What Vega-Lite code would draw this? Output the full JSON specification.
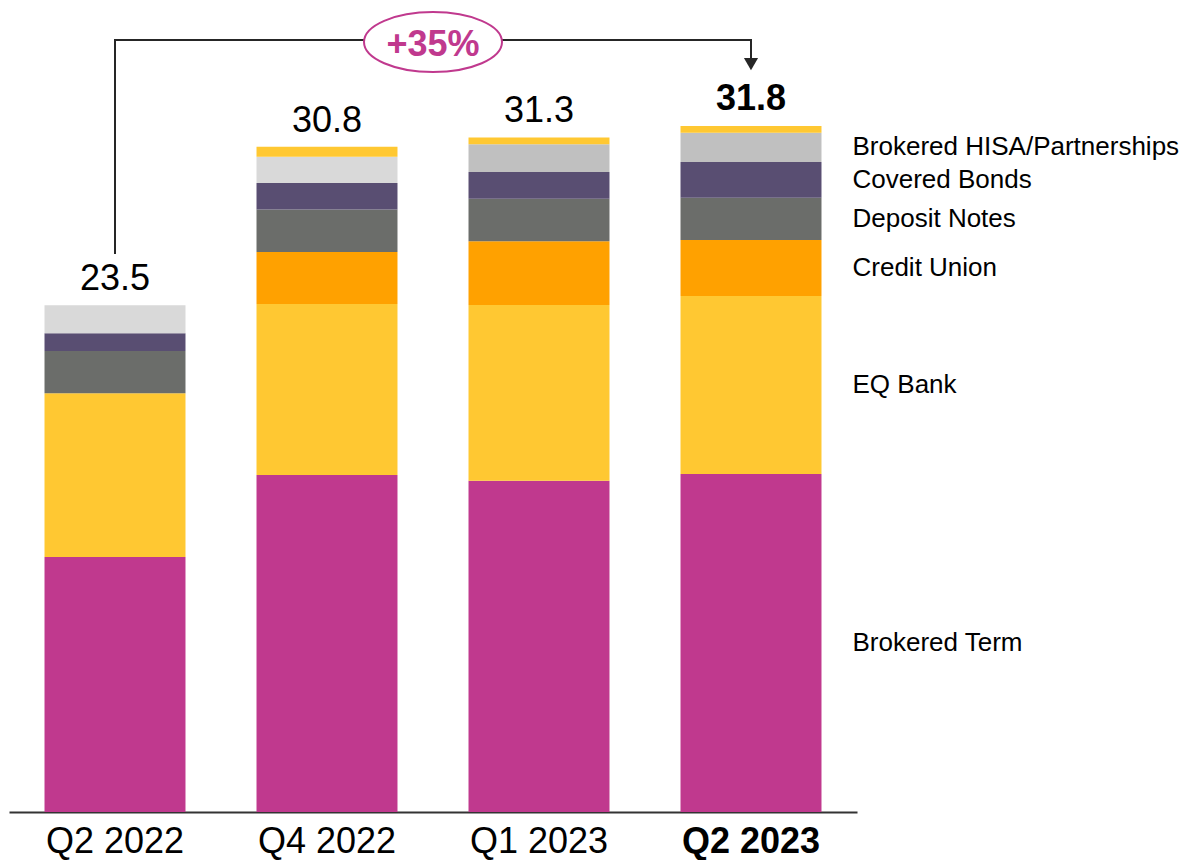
{
  "$schema": "https://vega.github.io/schema/vega-lite/v6.json",
  "width": 848,
  "height": 812,
  "autosize": {"type": "none"},
  "padding": {"left": 9, "top": 0, "right": 329, "bottom": 48},
  "config": {"view": {"stroke": null}, "font": "Liberation Sans", "text": {"font": "Liberation Sans"}},
  "datasets": {
    "funding": [
      {"q": "Q2 2022", "series": "Brokered Term", "value": 11.82},
      {"q": "Q2 2022", "series": "EQ Bank", "value": 7.60},
      {"q": "Q2 2022", "series": "Deposit Notes", "value": 1.95},
      {"q": "Q2 2022", "series": "Covered Bonds", "value": 0.83},
      {"q": "Q2 2022", "series": "Brokered HISA", "value": 1.30},
      {"q": "Q4 2022", "series": "Brokered Term", "value": 15.62},
      {"q": "Q4 2022", "series": "EQ Bank", "value": 7.94},
      {"q": "Q4 2022", "series": "Credit Union", "value": 2.40},
      {"q": "Q4 2022", "series": "Deposit Notes", "value": 1.98},
      {"q": "Q4 2022", "series": "Covered Bonds", "value": 1.22},
      {"q": "Q4 2022", "series": "Brokered HISA", "value": 1.22},
      {"q": "Q4 2022", "series": "Other", "value": 0.46},
      {"q": "Q1 2023", "series": "Brokered Term", "value": 15.36},
      {"q": "Q1 2023", "series": "EQ Bank", "value": 8.15},
      {"q": "Q1 2023", "series": "Credit Union", "value": 2.95},
      {"q": "Q1 2023", "series": "Deposit Notes", "value": 1.98},
      {"q": "Q1 2023", "series": "Covered Bonds", "value": 1.24},
      {"q": "Q1 2023", "series": "Brokered HISA/Partnerships", "value": 1.28},
      {"q": "Q1 2023", "series": "Other", "value": 0.32},
      {"q": "Q2 2023", "series": "Brokered Term", "value": 15.67},
      {"q": "Q2 2023", "series": "EQ Bank", "value": 8.25},
      {"q": "Q2 2023", "series": "Credit Union", "value": 2.60},
      {"q": "Q2 2023", "series": "Deposit Notes", "value": 1.96},
      {"q": "Q2 2023", "series": "Covered Bonds", "value": 1.66},
      {"q": "Q2 2023", "series": "Brokered HISA/Partnerships", "value": 1.36},
      {"q": "Q2 2023", "series": "Other", "value": 0.31}
    ],
    "bracket": [
      {"q": "Q2 2022", "y": 25.87, "o": 1},
      {"q": "Q2 2022", "y": 35.79, "o": 2},
      {"q": "Q2 2023", "y": 35.79, "o": 3},
      {"q": "Q2 2023", "y": 34.8, "o": 4}
    ],
    "arrow": [{"q": "Q2 2023", "y": 34.68}],
    "badge": [{"q": "Q4 2022", "y": 35.70, "ty": 35.06, "label": "+35%"}]
  },
  "layer": [
    {
      "data": {"name": "funding"},
      "transform": [
        {"calculate": "indexof(['Brokered Term','EQ Bank','Credit Union','Deposit Notes','Covered Bonds','Brokered HISA','Brokered HISA/Partnerships','Other'], datum.series)", "as": "ord"}
      ],
      "mark": {"type": "bar"},
      "encoding": {
        "x": {
          "field": "q", "type": "nominal",
          "scale": {"domain": ["Q2 2022", "Q4 2022", "Q1 2023", "Q2 2023"], "paddingInner": 0.335, "paddingOuter": 0.1675},
          "axis": {
            "title": null, "labelAngle": 0, "labelFontSize": 36, "labelColor": "#000000",
            "labelFont": "Liberation Sans",
            "labelFontWeight": {"condition": {"test": "datum.value === 'Q2 2023'", "value": "bold"}, "value": "normal"},
            "ticks": false, "labelPadding": 12, "domainColor": "#333333", "domainWidth": 2,
            "grid": false, "labelOverlap": false
          }
        },
        "y": {
          "field": "value", "type": "quantitative", "stack": "zero",
          "scale": {"domain": [0, 37.65], "nice": false, "zero": true},
          "axis": null
        },
        "color": {
          "field": "series", "type": "nominal", "legend": null,
          "scale": {
            "domain": ["Brokered Term", "EQ Bank", "Credit Union", "Deposit Notes", "Covered Bonds", "Brokered HISA", "Brokered HISA/Partnerships", "Other"],
            "range": ["#c0398e", "#ffc832", "#ffa100", "#6b6d6a", "#594e72", "#d9d9d9", "#c0c0c0", "#ffc832"]
          }
        },
        "order": {"field": "ord", "type": "quantitative"}
      }
    },
    {
      "data": {"name": "funding"},
      "transform": [
        {"aggregate": [{"op": "sum", "field": "value", "as": "total"}], "groupby": ["q"]},
        {"filter": "datum.q !== 'Q2 2023'"}
      ],
      "mark": {"type": "text", "fontSize": 36, "dy": -15, "baseline": "alphabetic", "align": "center", "color": "#000000"},
      "encoding": {
        "x": {"field": "q", "type": "nominal", "scale": {"domain": ["Q2 2022", "Q4 2022", "Q1 2023", "Q2 2023"]}},
        "y": {"field": "total", "type": "quantitative"},
        "text": {"field": "total", "type": "quantitative", "format": ".1f"}
      }
    },
    {
      "data": {"name": "funding"},
      "transform": [
        {"aggregate": [{"op": "sum", "field": "value", "as": "total"}], "groupby": ["q"]},
        {"filter": "datum.q === 'Q2 2023'"}
      ],
      "mark": {"type": "text", "fontSize": 36, "fontWeight": "bold", "dy": -16, "baseline": "alphabetic", "align": "center", "color": "#000000"},
      "encoding": {
        "x": {"field": "q", "type": "nominal", "scale": {"domain": ["Q2 2022", "Q4 2022", "Q1 2023", "Q2 2023"]}},
        "y": {"field": "total", "type": "quantitative"},
        "text": {"field": "total", "type": "quantitative", "format": ".1f"}
      }
    },
    {
      "data": {"name": "funding"},
      "transform": [
        {"calculate": "indexof(['Brokered Term','EQ Bank','Credit Union','Deposit Notes','Covered Bonds','Brokered HISA','Brokered HISA/Partnerships','Other'], datum.series)", "as": "ord"},
        {"stack": "value", "groupby": ["q"], "sort": [{"field": "ord", "order": "ascending"}], "as": ["v0", "v1"]},
        {"filter": "datum.q === 'Q2 2023' && datum.series !== 'Other'"},
        {"calculate": "(datum.v0 + datum.v1) / 2", "as": "mid"}
      ],
      "mark": {"type": "text", "fontSize": 26, "align": "left", "baseline": "middle", "dx": 101.5, "color": "#000000"},
      "encoding": {
        "x": {"field": "q", "type": "nominal", "scale": {"domain": ["Q2 2022", "Q4 2022", "Q1 2023", "Q2 2023"]}},
        "y": {"field": "mid", "type": "quantitative"},
        "text": {"field": "series", "type": "nominal"}
      }
    },
    {
      "data": {"name": "bracket"},
      "mark": {"type": "line", "color": "#262626", "strokeWidth": 2},
      "encoding": {
        "x": {"field": "q", "type": "nominal", "scale": {"domain": ["Q2 2022", "Q4 2022", "Q1 2023", "Q2 2023"]}},
        "y": {"field": "y", "type": "quantitative"},
        "order": {"field": "o", "type": "quantitative"}
      }
    },
    {
      "data": {"name": "arrow"},
      "mark": {"type": "point", "shape": "triangle-down", "size": 200, "filled": true, "color": "#262626", "opacity": 1},
      "encoding": {
        "x": {"field": "q", "type": "nominal", "scale": {"domain": ["Q2 2022", "Q4 2022", "Q1 2023", "Q2 2023"]}},
        "y": {"field": "y", "type": "quantitative"}
      }
    },
    {
      "data": {"name": "badge"},
      "mark": {"type": "point", "shape": "M-1,0A1,0.435,0,1,1,1,0A1,0.435,0,1,1,-1,0Z", "size": 19044, "filled": true, "fill": "#ffffff", "stroke": "#c0398e", "strokeWidth": 2, "xOffset": 106, "opacity": 1},
      "encoding": {
        "x": {"field": "q", "type": "nominal", "scale": {"domain": ["Q2 2022", "Q4 2022", "Q1 2023", "Q2 2023"]}},
        "y": {"field": "y", "type": "quantitative"}
      }
    },
    {
      "data": {"name": "badge"},
      "mark": {"type": "text", "fontSize": 36, "fontWeight": "bold", "color": "#c0398e", "align": "center", "baseline": "alphabetic", "xOffset": 106},
      "encoding": {
        "x": {"field": "q", "type": "nominal", "scale": {"domain": ["Q2 2022", "Q4 2022", "Q1 2023", "Q2 2023"]}},
        "y": {"field": "ty", "type": "quantitative"},
        "text": {"field": "label", "type": "nominal"}
      }
    }
  ]
}
